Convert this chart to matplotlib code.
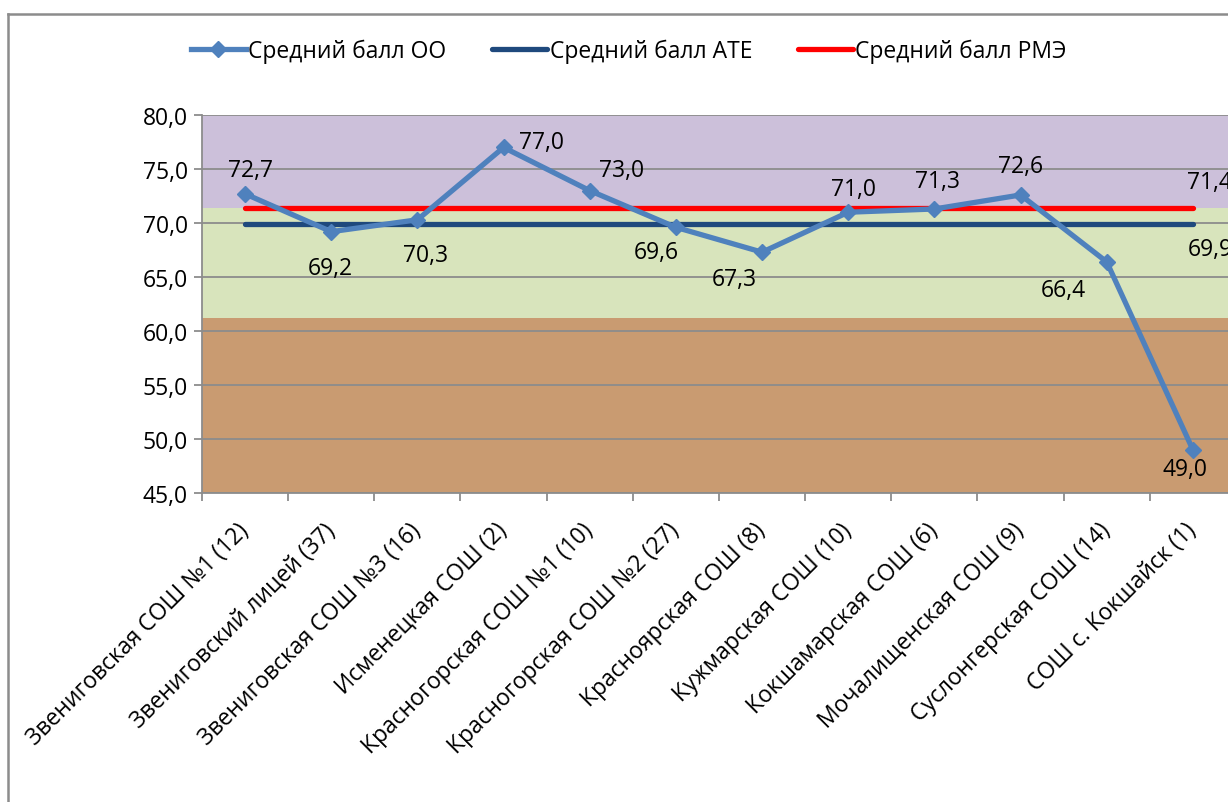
import matplotlib.pyplot as plt
from matplotlib.lines import Line2D

plt.rcParams['font.family'] = ['Open Sans', 'DejaVu Sans']

schools = ['Звениговская СОШ №1 (12)', 'Звениговский лицей (37)', 'Звениговская СОШ №3 (16)',
           'Исменецкая СОШ (2)', 'Красногорская СОШ №1 (10)', 'Красногорская СОШ №2 (27)',
           'Красноярская СОШ (8)', 'Кужмарская СОШ (10)', 'Кокшамарская СОШ (6)',
           'Мочалищенская СОШ (9)', 'Суслонгерская СОШ (14)', 'СОШ с. Кокшайск (1)']
score_oo = [72.7, 69.2, 70.3, 77.0, 73.0, 69.6, 67.3, 71.0, 71.3, 72.6, 66.4, 49.0]
score_ate = [69.9, 69.9, 69.9, 69.9, 69.9, 69.9, 69.9, 69.9, 69.9, 69.9, 69.9, 69.9]
score_rme = [71.4, 71.4, 71.4, 71.4, 71.4, 71.4, 71.4, 71.4, 71.4, 71.4, 71.4, 71.4]
band_low = 61.2
y_ticks = [45, 50, 55, 60, 65, 70, 75, 80]

# label offsets in points (manual placement as in the original)
oo_offsets = [(4, 17), (-1, -26), (6, -25), (27, 4), (23, 15), (-14, -18),
              (-20, -19), (4, 17), (2, 20), (0, 21), (-31, -20), (-6, -14)]

fs = 16.5
fig = plt.figure(figsize=(12.28, 8.03), dpi=100)
ax = fig.add_axes([0.1645, 0.3848, 0.842, 0.4707])

x = list(range(len(schools)))
ax.axhspan(score_rme[0], 80, color='#CCC0DA', zorder=0, lw=0)
ax.axhspan(band_low, score_rme[0], color='#D8E4BC', zorder=0, lw=0)
ax.axhspan(45, band_low, color='#C99B71', zorder=0, lw=0)

ax.plot(x, score_oo, color='#4F81BD', lw=3.8, marker='D', markersize=8,
        label='Средний балл ОО', zorder=4)
ax.plot(x, score_ate, color='#1F497D', lw=3.8, solid_capstyle='round',
        label='Средний балл АТЕ', zorder=3)
ax.plot(x, score_rme, color='#FF0000', lw=3.8, solid_capstyle='round',
        label='Средний балл РМЭ', zorder=3)

for i, v in enumerate(score_oo):
    ax.annotate(f'{v:.1f}'.replace('.', ','), (i, v), xytext=oo_offsets[i],
                textcoords='offset points', ha='center', va='center', fontsize=fs, zorder=5)
ax.annotate(f'{score_rme[-1]:.1f}'.replace('.', ','), (x[-1], score_rme[-1]), xytext=(-4, 19),
            textcoords='offset points', ha='left', va='center', fontsize=fs)
ax.annotate(f'{score_ate[-1]:.1f}'.replace('.', ','), (x[-1], score_ate[-1]), xytext=(-4, -18),
            textcoords='offset points', ha='left', va='center', fontsize=fs)

ax.set_xlim(-0.5, len(schools) - 0.5)
ax.set_ylim(45, 80)
ax.set_yticks(y_ticks)
ax.set_yticklabels([f'{t:.1f}'.replace('.', ',') for t in y_ticks], fontsize=fs)
ax.yaxis.grid(True, color='#8C8C8C', lw=1.3, zorder=1)
ax.set_axisbelow(True)

ax.set_xticks([i - 0.5 for i in range(len(schools) + 1)])
ax.set_xticklabels([])
ax.set_xticks(x, minor=True)
ax.set_xticklabels(schools, minor=True, rotation=45, ha='right', va='center',
                   rotation_mode='anchor', fontsize=fs)
ax.tick_params(axis='x', which='minor', length=0, pad=24)
ax.tick_params(axis='both', which='major', length=6, color='#8C8C8C', width=1.3)
ax.tick_params(axis='y', pad=4)

for s in ['top', 'right']:
    ax.spines[s].set_visible(False)
for s in ['left', 'bottom']:
    ax.spines[s].set_color('#8C8C8C')
    ax.spines[s].set_linewidth(1.3)

fig.legend(loc='center', bbox_to_anchor=(0.512, 0.935), ncol=3, frameon=False,
           fontsize=fs, handlelength=2.4, handletextpad=0.1, columnspacing=2.0)

# outer chart border
fig.add_artist(Line2D([8 / 1228, 1], [1 - 15 / 803, 1 - 15 / 803], color='#8C8C8C', lw=1.8,
                      transform=fig.transFigure))
fig.add_artist(Line2D([8 / 1228, 8 / 1228], [0, 1 - 15 / 803], color='#8C8C8C', lw=1.8,
                      transform=fig.transFigure))

fig.savefig('out.png', dpi=100)
